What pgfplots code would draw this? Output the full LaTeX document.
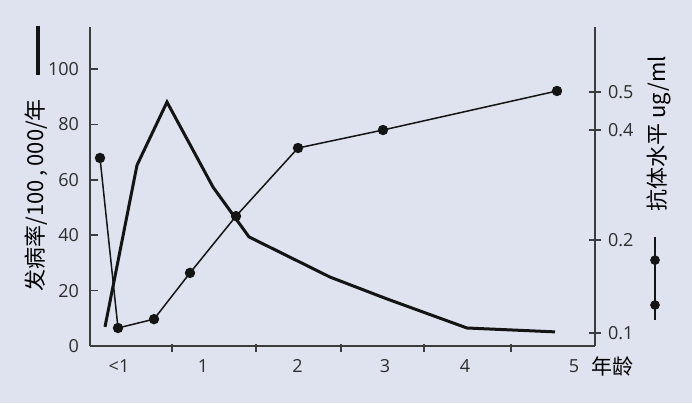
\documentclass[border=0pt]{standalone}
\usepackage{pgfplots}
\pgfplotsset{compat=1.18}
\usepackage{fontspec}
\setmainfont{Open Sans}
\newfontfamily\cjk{Noto Sans CJK SC}
\definecolor{bg}{RGB}{223,227,239}
\definecolor{axc}{RGB}{60,60,60}
\definecolor{txt}{RGB}{45,45,45}
\definecolor{ln}{RGB}{20,20,20}
\begin{document}
\begin{tikzpicture}
\fill[bg] (-45pt,-28.5pt) rectangle (301pt,173pt);
\useasboundingbox (-45pt,-28.5pt) rectangle (301pt,173pt);
\begin{axis}[
  at={(0,0)}, anchor=south west,
  scale only axis, width=252.5pt, height=159.5pt,
  xmin=0, xmax=5.05, ymin=0, ymax=115.2,
  axis x line*=bottom, axis y line*=left,
  axis line style={axc, line width=0.8pt, -},
  clip=false,
  tick align=center, major tick length=4pt,
  ytick style={axc, line width=0.8pt, xshift=2pt},
  xtick style={axc, line width=0.8pt, yshift=-1pt},
  ytick={0,20,40,60,80,100},
  xtick={0.82,1.66,2.51,3.34,4.21},
  xticklabels={},
  extra x ticks={0.29,1.13,2.075,2.95,3.75,4.84},
  extra x tick labels={{<1},1,2,3,4,5},
  extra x tick style={major tick length=0pt, tick label style={yshift=-3.3pt}},
  /pgf/number format/assume math mode=true,
  tick label style={font=\fontsize{9}{11}\selectfont, text=txt},
  ylabel={\cjk 发病率/100\,,\,000/年},
  every axis y label/.style={at={(axis description cs:-0.107,0.473)}, rotate=90, anchor=center, font=\fontsize{11}{13}\selectfont, text=black},
  xlabel={\cjk 年龄},
  every axis x label/.style={at={(axis description cs:1.034,-0.063)}, anchor=center, font=\fontsize{10.5}{12}\selectfont, text=black},
]
\addplot[ln, line width=1.5pt, line join=miter] coordinates {
  (0.15,6.9) (0.47,65.3) (0.77,88.1) (1.23,57.4) (1.59,39.4)
  (2.40,24.9) (2.97,17.0) (3.77,6.5) (4.65,5.1)
};
% legend glyph for the incidence line
\addplot[ln, line width=1.6pt, forget plot] coordinates {(-0.52,115.5) (-0.52,97.8)};
\end{axis}
\begin{axis}[
  at={(0,0)}, anchor=south west,
  scale only axis, width=252.5pt, height=159.5pt,
  xmin=0, xmax=5.05, ymin=0, ymax=115.2,
  axis x line=none, axis y line*=right,
  axis line style={axc, line width=0.8pt, -},
  clip=false,
  tick align=center, major tick length=6pt,
  ytick style={axc, line width=0.8pt},
  ytick={4.7,38.3,78.0,91.8},
  yticklabels={0.1,0.2,0.4,0.5},
  tick label style={font=\fontsize{9}{11}\selectfont, text=txt},
  ylabel={\cjk 抗体水平 ug/ml},
  every axis y label/.style={at={(axis description cs:1.127,0.665)}, rotate=90, anchor=center, font=\fontsize{11}{13}\selectfont, text=black},
]
\addplot[ln, line width=0.75pt, mark=*, mark size=2.2pt] coordinates {
  (0.10,67.9) (0.28,6.5) (0.64,9.7) (1.00,26.4) (1.46,46.9)
  (2.08,71.5) (2.93,78.0) (4.67,92.1)
};
% legend glyph for the antibody line
\addplot[ln, line width=0.75pt, forget plot] coordinates {(5.65,39.4) (5.65,9.4)};
\addplot[ln, only marks, mark=*, mark size=2.2pt, forget plot] coordinates {(5.65,31.0) (5.65,14.8)};
\end{axis}
\end{tikzpicture}
\end{document}
